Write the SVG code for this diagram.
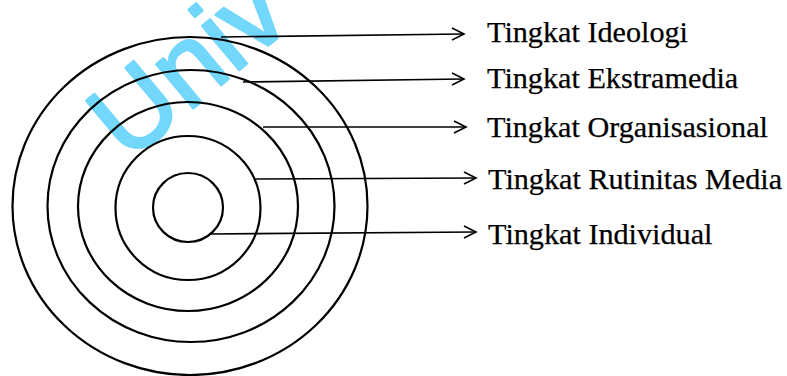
<svg xmlns="http://www.w3.org/2000/svg" width="787" height="376" viewBox="0 0 787 376">
<style>
.ring{fill:none;stroke:#000;stroke-width:2.2}
.conn{fill:none;stroke:#000;stroke-width:1.6}
.head{fill:none;stroke:#000;stroke-width:1.6;stroke-linejoin:miter}
.lbl{font-family:"Liberation Serif","Times New Roman",serif;font-size:30.2px;fill:#000;stroke:#000;stroke-width:0.25}
.wm{font-family:"Liberation Sans",Arial,sans-serif;font-size:108px;fill:#72d7fb;stroke:#72d7fb;stroke-width:3;stroke-linejoin:round}
</style>
<rect width="787" height="376" fill="#fff"/>
<text class="wm" transform="translate(128,163) rotate(-40)">Univ</text>
<g id="ring-ideologi"><ellipse class="ring" cx="190" cy="206" rx="177.5" ry="169"/></g>
<g id="ring-ekstramedia"><ellipse class="ring" cx="191" cy="206" rx="143.5" ry="136"/></g>
<g id="ring-organisasional"><ellipse class="ring" cx="188" cy="206.5" rx="110" ry="104.5"/></g>
<g id="ring-rutinitas"><ellipse class="ring" cx="188" cy="208" rx="72.5" ry="72"/></g>
<g id="ring-individual"><ellipse class="ring" cx="188" cy="207.5" rx="35" ry="34.5"/></g>
<g id="connectors">
<path class="conn" d="M221,37 L463,34"/>
<path class="head" d="M452,28 L464,34 L452,40"/>
<path class="conn" d="M243,82 L463,79"/>
<path class="head" d="M452,73 L464,79 L452,85"/>
<path class="conn" d="M263,127 L465,127"/>
<path class="head" d="M454,121 L466,127 L454,133"/>
<path class="conn" d="M255,179 L475,178"/>
<path class="head" d="M464,172 L476,178 L464,184"/>
<path class="conn" d="M209,234 L475,232"/>
<path class="head" d="M464,226 L476,232 L464,238"/>
</g>
<g id="label-ideologi"><text class="lbl" x="487" y="42">Tingkat Ideologi</text></g>
<g id="label-ekstramedia"><text class="lbl" x="487" y="88">Tingkat Ekstramedia</text></g>
<g id="label-organisasional"><text class="lbl" x="487" y="137">Tingkat Organisasional</text></g>
<g id="label-rutinitas"><text class="lbl" x="488" y="189">Tingkat Rutinitas Media</text></g>
<g id="label-individual"><text class="lbl" x="488" y="244">Tingkat Individual</text></g>
</svg>
